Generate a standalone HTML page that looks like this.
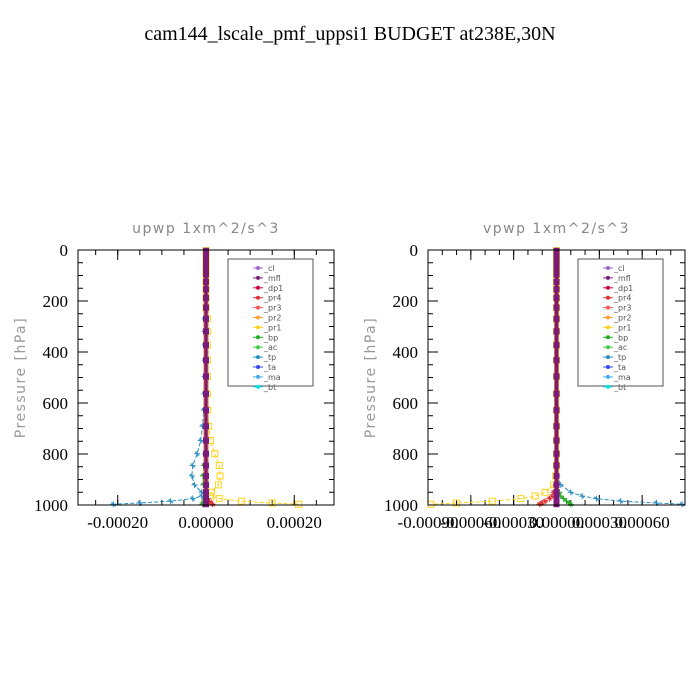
<!DOCTYPE html>
<html><head><meta charset="utf-8"><style>
body{margin:0;background:#fff;width:700px;height:700px;overflow:hidden}
svg{display:block}
</style></head><body>
<svg id="chart" width="700" height="700" viewBox="0 0 700 700" xmlns="http://www.w3.org/2000/svg">
<text x="350" y="40" text-anchor="middle" font-family="Liberation Serif, serif" font-size="20">cam144_lscale_pmf_uppsi1  BUDGET at238E,30N</text>
</svg>
<script>
// ---- data ----
const levels=[3,7,14,24,38,54,72,96,125,154,188,226,270,319,373,432,496,564,628,691,747,799,845,886,921,950,965,975,985,992,997];
const seriesNames=["_cl","_mfl","_dp1","_pr4","_pr3","_pr2","_pr1","_bp","_ac","_tp","_ta","_ma","_bt"];
const seriesColors=["#9a66cc","#7a1a7a","#cc0044","#e03030","#ff5555","#ffa030","#ffd21a","#22aa22","#44cc44","#2a8fc0","#3344ff","#44aaee","#00e0e0"];
// upwp panel values (m^2/s^3)
const upPr1=[0,0,0,0,0,0,0,0,0,0,0,0,0.000003,0.000003,0.000003,0.000003,0.000003,0.000003,0.000004,0.000006,0.00001,0.00002,0.00003,0.000032,0.000028,0.000012,0.00001,0.00003,0.00008,0.00015,0.00021];
const upTp=[0,0,0,0,0,0,0,0,0,0,0,0,-0.000003,-0.000003,-0.000003,-0.000003,-0.000003,-0.000004,-0.000005,-0.000008,-0.000012,-0.00002,-0.00003,-0.000032,-0.000026,-0.00001,-0.00001,-0.00003,-0.00008,-0.00015,-0.00021];
const upBp=[0,0,0,0,0,0,0,0,0,0,0,0,0,0,0,0,0,0,0,0,0,-0.000002,-0.000005,-0.000007,-0.000006,-0.000003,-0.000002,-0.000002,-0.000004,-0.000006,-0.000008];
const upDp1=[0,0,0,0,0,0,0,0,0,0,0,0,0,0,0,0,0,0,0,0,0,0,0,0,0,0,0,0.000004,0.000008,0.000012,0.000015];
// vpwp panel values
const vpPr1=[0,0,0,0,0,0,0,0,0,0,0,0,0,0,0,0,0,0,0,0,0,0,0,-0.000005,-0.00002,-0.00008,-0.00015,-0.00025,-0.00045,-0.0007,-0.00088];
const vpTp=[0,0,0,0,0,0,0,0,0,0,0,0,0,0,0,0,0,0,0,0,0,0,0,0.000005,0.00003,0.0001,0.00018,0.00028,0.00045,0.0007,0.00088];
const vpBp=[0,0,0,0,0,0,0,0,0,0,0,0,0,0,0,0,0,0,0,0,0,0,0,0,0.000005,0.00002,0.00003,0.00005,0.00007,0.00009,0.0001];
const vpDp1=[0,0,0,0,0,0,0,0,0,0,0,0,0,0,0,0,0,0,0,0,0,0,0,0,-0.000005,-0.00002,-0.00003,-0.00005,-0.00008,-0.0001,-0.00012];
const yTicks=[0,200,400,600,800,1000];
const upXTicks=[-0.0002,0,0.0002];
const upXLabels=["-0.00020","0.00000","0.00020"];
const vpXTicks=[-0.0009,-0.0006,-0.0003,0,0.0003,0.0006];
const vpXLabels=["-0.00090","-0.00060","-0.00030","0.00000","0.00030","0.00060"];

const NS="http://www.w3.org/2000/svg";
const svg=document.getElementById('chart');
function mk(tag,attrs,parent){const e=document.createElementNS(NS,tag);for(const k in attrs)e.setAttribute(k,attrs[k]);(parent||svg).appendChild(e);return e;}

function panel(cfg){
  const g=mk('g',{});
  
  
  const L=cfg.x0,R=cfg.x1,T=250,B=505;
  const xs=v=>L+(v-cfg.xmin)/(cfg.xmax-cfg.xmin)*(R-L);
  const ys=p=>T+p/1000*(B-T);
  const t=mk('text',{x:(L+R)/2,y:233,'text-anchor':'middle','font-family':'DejaVu Sans, sans-serif','font-size':'14','fill':'#888','letter-spacing':'1.5'},g);
  t.textContent=cfg.title;
  
  
  const yl=mk('text',{x:0,y:0,transform:`translate(${L-53},${(T+B)/2}) rotate(-90)`,'text-anchor':'middle','font-family':'DejaVu Sans, sans-serif','font-size':'14','fill':'#999','letter-spacing':'1.5'},g);
  yl.textContent='Pressure [hPa]';
  
  
  for(let p=0;p<=1000;p+=50){
    const major=p%200===0;
    mk('line',{x1:L,x2:L+(major?10:5),y1:ys(p),y2:ys(p),stroke:'#000','stroke-width':1},g);
    mk('line',{x1:R,x2:R-(major?10:5),y1:ys(p),y2:ys(p),stroke:'#000','stroke-width':1},g);
  }
  yTicks.forEach(p=>{
    const tx=mk('text',{x:L-10,y:ys(p)+6,'text-anchor':'end','font-family':'Liberation Serif, serif','font-size':'17'},g);
    tx.textContent=p;
    
    
  });
  const step=cfg.minorStep;
  for(let v=Math.ceil(cfg.xmin/step)*step;v<=cfg.xmax+1e-12;v+=step){
    mk('line',{x1:xs(v),x2:xs(v),y1:B,y2:B-5,stroke:'#000'},g);
    mk('line',{x1:xs(v),x2:xs(v),y1:T,y2:T+5,stroke:'#000'},g);
  }
  cfg.ticks.forEach((v,i)=>{
    mk('line',{x1:xs(v),x2:xs(v),y1:B,y2:B-10,stroke:'#000'},g);
    mk('line',{x1:xs(v),x2:xs(v),y1:T,y2:T+10,stroke:'#000'},g);
    const tx=mk('text',{x:xs(v),y:B+23,'text-anchor':'middle','font-family':'Liberation Serif, serif','font-size':'17'},g);
    tx.textContent=cfg.labels[i];
    
    
  });
  const draw=(vals,color,marker,name)=>{
    const s=mk('g',{},g);
    
    
    mk('polyline',{points:vals.map((v,i)=>xs(v)+','+ys(levels[i])).join(' '),fill:'none',stroke:color,'stroke-width':1,'stroke-dasharray':'4,2'},s);
    vals.forEach((v,i)=>{
      const x=xs(v),y=ys(levels[i]);
      if(marker==='sq')mk('rect',{x:x-3,y:y-3,width:6,height:6,fill:'none',stroke:color},s);
      else mk('path',{d:`M${x-3},${y}H${x+3}M${x},${y-3}V${y+3}M${x-2},${y-2}L${x+2},${y+2}`,stroke:color,fill:'none'},s);
    });
  };
  draw(cfg.bp,'#22aa22','x','series-bp');
  draw(cfg.tp,'#2a8fc0','x','series-tp');
  draw(cfg.pr1,'#ffd21a','sq','series-pr1');
  draw(cfg.dp1,'#e03030','x','series-dp1');
  const z=mk('g',{},g);
  
  
  mk('line',{x1:xs(0),x2:xs(0),y1:T,y2:B,stroke:'#e07030','stroke-width':5},z);
  mk('line',{x1:xs(0),x2:xs(0),y1:T,y2:B,stroke:'#7a1a7a','stroke-width':3},z);
  levels.forEach(p=>mk('rect',{x:xs(0)-3,y:ys(p)-3,width:6,height:6,fill:'#7a1a7a'},z));
  mk('rect',{x:L,y:T,width:R-L,height:B-T,fill:'none',stroke:'#000','stroke-width':1},g);
  const lg=mk('g',{},g);
  
  
  const lx=L+150,ly=259;
  mk('rect',{x:lx,y:ly,width:85,height:127,fill:'#fff',stroke:'#555'},lg);
  seriesNames.forEach((n,i)=>{
    const e=mk('g',{},lg);
    
    
    const yy=ly+9+i*9.9;
    mk('line',{x1:lx+25,x2:lx+35,y1:yy,y2:yy,stroke:seriesColors[i]},e);
    mk('circle',{cx:lx+30,cy:yy,r:2,fill:seriesColors[i]},e);
    const tx=mk('text',{x:lx+36,y:yy+3,'font-family':'DejaVu Sans, sans-serif','font-size':'8','fill':'#555'},e);
    tx.textContent=n;
  });
}
panel({name:'upwp-panel',title:'upwp   1xm^2/s^3',x0:78,x1:334,xmin:-0.00029,xmax:0.00029,ticks:upXTicks,labels:upXLabels,minorStep:0.00005,pr1:upPr1,tp:upTp,bp:upBp,dp1:upDp1});
panel({name:'vpwp-panel',title:'vpwp   1xm^2/s^3',x0:428,x1:685,xmin:-0.0009,xmax:0.0009,ticks:vpXTicks,labels:vpXLabels,minorStep:0.0001,pr1:vpPr1,tp:vpTp,bp:vpBp,dp1:vpDp1});
</script>
</body></html>
